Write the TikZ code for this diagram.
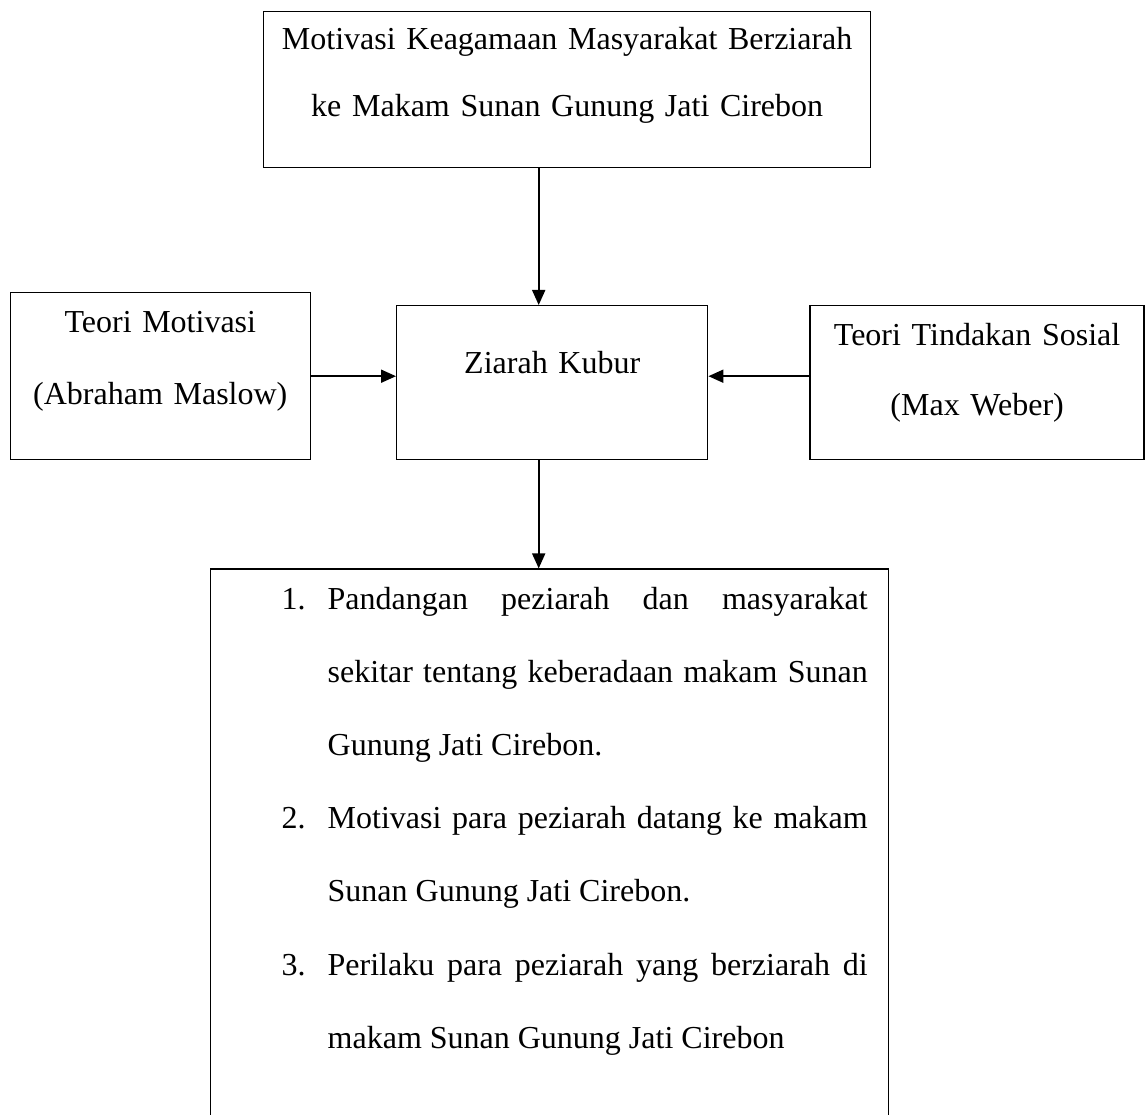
\documentclass[tikz,border=0pt]{standalone}
\usepackage{fontspec}
\setmainfont{Liberation Serif}
\usepackage{tikz}
\usetikzlibrary{positioning}
\usetikzlibrary{arrows.meta}
\tikzstyle{kotak} = [draw,line width=1.4pt,inner sep=0pt,align=center]
\tikzstyle{panah} = [line width=1.8pt,-{Triangle[length=15pt,width=13pt]}]

\begin{document}
\begin{tikzpicture}[x=1pt,y=1pt]
	\useasboundingbox (0,0) rectangle (1148,-1115);
	%Nodes
	\node [kotak,anchor=north west,text width=311pt,text height=68pt,text depth=86pt,font=\fontsize{32pt}{70pt}\selectfont] (zk) at (396,-305) {Ziarah Kubur};
	
	\node [kotak,above=137pt of zk.north,anchor=south,xshift=15pt,text width=607pt,text height=38pt,text depth=118pt,font=\fontsize{32pt}{67pt}\selectfont] (motivasi) {Motivasi Keagamaan Masyarakat Berziarah\\ke Makam Sunan Gunung Jati Cirebon};
	
	\node [kotak,left=85pt of zk.south west,anchor=south east,text width=300pt,text height=40pt,text depth=127pt,font=\fontsize{32pt}{72pt}\selectfont] (maslow) {Teori Motivasi\\(Abraham Maslow)};
	\node [kotak,right=101pt of zk.south east,anchor=south west,text width=334pt,text height=40pt,text depth=114pt,font=\fontsize{32pt}{70pt}\selectfont] (weber) {Teori Tindakan Sosial\\(Max Weber)};
	
	\node [kotak,below=108pt of zk,xshift=-2.5pt,text width=678pt,text height=40pt,text depth=533pt,align=justify,font=\fontsize{32pt}{73.2pt}\selectfont] (hasil) {{\leftskip=117pt\rightskip=21pt\parindent=0pt\parskip=0pt
		\noindent\llap{\makebox[46pt][l]{1.}}Pandangan peziarah dan masyarakat\linebreak sekitar tentang keberadaan makam Sunan\linebreak Gunung Jati Cirebon.\par
		\noindent\llap{\makebox[46pt][l]{2.}}Motivasi para peziarah datang ke makam\linebreak Sunan Gunung Jati Cirebon.\par
		\noindent\llap{\makebox[46pt][l]{3.}}Perilaku para peziarah yang berziarah di\linebreak makam Sunan Gunung Jati Cirebon\par}};
	
	%Lines
	\coordinate (atas) at ([xshift=-13.5pt]zk.north);
	\coordinate (bawah) at ([xshift=-13.5pt]zk.south);
	\draw[panah] (motivasi.south -| atas) -- (atas);
	\draw[panah] (maslow.east) -- (maslow.east -| zk.west);
	\draw[panah] (weber.west |- maslow.east) -- (maslow.east -| zk.east);
	\draw[panah] (bawah) -- (bawah |- hasil.north);
\end{tikzpicture}
\end{document}
